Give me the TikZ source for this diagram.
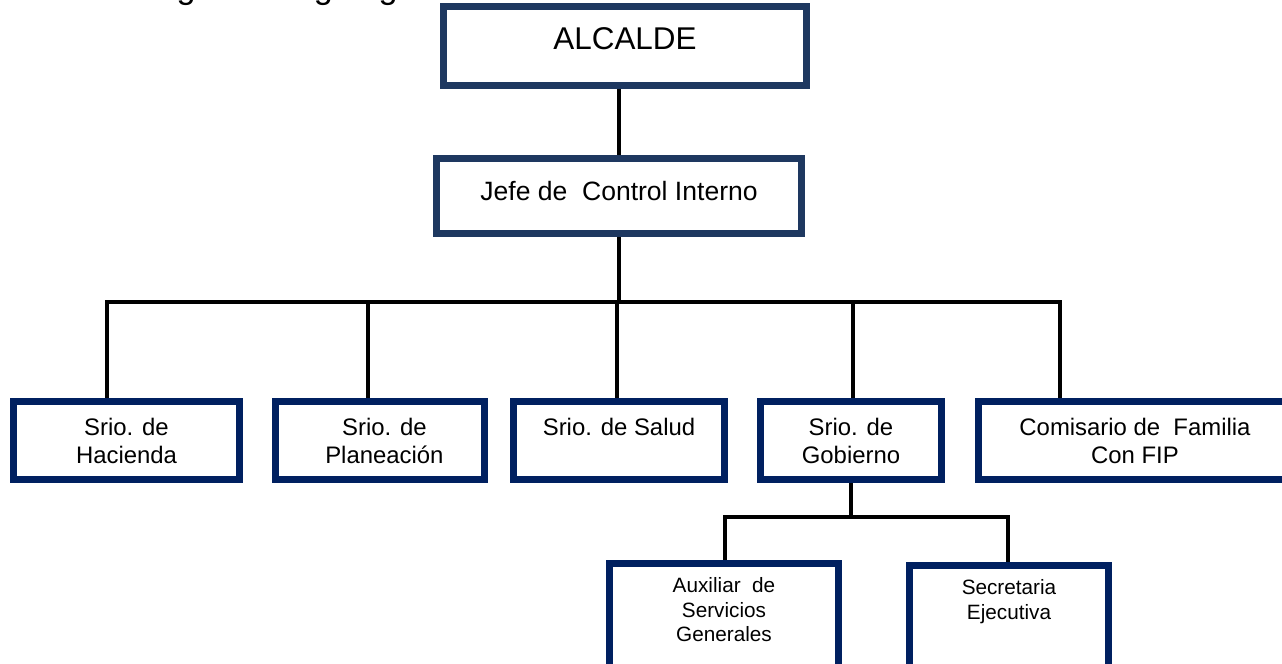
\documentclass[tikz,border=0pt]{standalone}
\usepackage{fontspec}
\setmainfont{Liberation Sans}
\usetikzlibrary{backgrounds}
\definecolor{navyA}{RGB}{30,56,96}
\definecolor{navyB}{RGB}{0,32,96}
\begin{document}
\begin{tikzpicture}[x=0.02cm,y=-0.02cm,
  topbox/.style={draw=navyA,line width=4pt,fill=white,inner sep=0pt},
  subbox/.style={draw=navyB,line width=3.7pt,fill=white,inner sep=0pt},
  conn/.style={draw=black,line width=2.3pt},
  lblA/.style={font=\fontsize{17.9}{21}\selectfont,align=center,inner sep=0pt},
  lblB/.style={font=\fontsize{15.1}{18}\selectfont,align=center,inner sep=0pt},
  lblC/.style={font=\fontsize{13.6}{15.9}\selectfont,align=center,inner sep=0pt},
  lblD/.style={font=\fontsize{11.8}{13.9}\selectfont,align=center,inner sep=0pt}]
\useasboundingbox (0,0) rectangle (1282,663);

% partly visible heading text at the top edge
\node[anchor=base west,inner sep=0pt,font=\fontsize{19.5}{22}\selectfont] (cap) at (125,-1.5) {Diagrama organigrama};

% boxes
\node[topbox,minimum width=7.26cm,minimum height=1.58cm,
  label={[lblA,yshift=4pt]center:ALCALDE}] (alc) at (625,46) {};
\node[topbox,minimum width=7.30cm,minimum height=1.50cm,
  label={[lblB,yshift=2.8pt]center:Jefe de\ \ Control Interno}] (jefe) at (619,196) {};

\node[subbox,minimum width=4.53cm,minimum height=1.57cm,
  label={[lblC]center:Srio. de\\Hacienda}] (hac) at (126.5,440.5) {};
\node[subbox,minimum width=4.19cm,minimum height=1.57cm,
  label={[lblC,xshift=2.5pt]center:Srio. de\\Planeación}] (pla) at (380,440.5) {};
\node[subbox,minimum width=4.23cm,minimum height=1.57cm,
  label={[lblC,yshift=7.6pt]center:Srio. de Salud}] (sal) at (619,440.5) {};
\node[subbox,minimum width=3.63cm,minimum height=1.57cm,
  label={[lblC]center:Srio. de\\Gobierno}] (gob) at (851,440.5) {};
\node[subbox,minimum width=6.27cm,minimum height=1.57cm,
  label={[lblC]center:Comisario de\ \ Familia\\Con FIP}] (com) at (1135,440.5) {};

\node[subbox,minimum width=4.59cm,minimum height=2.47cm,
  label={[lblD,yshift=8.6pt]center:Auxiliar\ \ de\\Servicios\\Generales}] (aux) at (724,625) {};
\node[subbox,minimum width=3.99cm,minimum height=2.43cm,
  label={[lblD,yshift=13.9pt]center:Secretaria\\Ejecutiva}] (sec) at (1009,626) {};

% connectors
\coordinate (busL) at (107,302);
\coordinate (busR) at (1060,302);
\coordinate (dP) at (368,302);
\coordinate (dS) at (617,302);
\coordinate (dG) at (853,302);
\coordinate (gL) at (725,517);
\coordinate (gR) at (1008,517);
\begin{scope}[on background layer]
\draw[conn] (jefe.north) -- (jefe.north |- alc.south);
\draw[conn] (busL |- hac.north) -- (busL) -- (busR) -- (busR |- com.north);
\draw[conn] (jefe.south) -- (jefe.south |- busL);
\draw[conn] (dP) -- (dP |- pla.north);
\draw[conn] (dS) -- (dS |- sal.north);
\draw[conn] (dG) -- (dG |- gob.north);
\draw[conn] (gob.south) -- (gob.south |- gL);
\draw[conn] (gL |- aux.north) -- (gL) -- (gR) -- (gR |- sec.north);
\end{scope}
\end{tikzpicture}
\end{document}
